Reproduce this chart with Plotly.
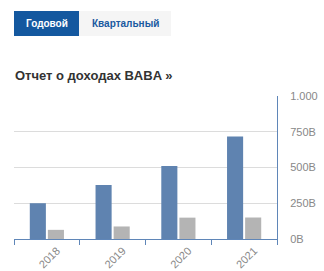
import plotly.graph_objects as go

years = ["2018", "2019", "2020", "2021"]
revenue = [250.3, 376.8, 509.7, 717.3]
net_income = [64.0, 87.6, 149.4, 150.3]
y_tickvals = [0, 250, 500, 750, 1000]
y_ticktext = ["0B", "250B", "500B", "750B", "1.000"]

W, H = 324, 271
L, R, T, B = 14, 277, 96, 239

def px(x):
    return (x - L) / (R - L)

def py(y):
    return (B - y) / (B - T)

axis_blue = "#5f86b8"
fig = go.Figure()
fig.add_trace(go.Bar(x=years, y=revenue, marker=dict(color="#5f83b0", line=dict(width=0)), name="Выручка"))
fig.add_trace(go.Bar(x=years, y=net_income, marker=dict(color="#b4b4b4", line=dict(width=0)), name="Чистая прибыль"))

fig.update_layout(
    width=W, height=H,
    margin=dict(l=L, r=W - R, t=T, b=H - B, pad=0, autoexpand=False),
    paper_bgcolor="white", plot_bgcolor="white",
    showlegend=False,
    barmode="group", bargap=0.45, bargroupgap=0.11,
    font=dict(family="Arial, Liberation Sans, sans-serif", color="#888888", size=11),
    xaxis=dict(type="category", tickson="boundaries", ticks="outside", ticklen=5,
               tickcolor=axis_blue, tickwidth=1, showline=True, linecolor=axis_blue,
               linewidth=1, showgrid=False, tickangle=-45, automargin=False,
               ticklabelshift=10,
               tickfont=dict(size=11, color="#888888"), fixedrange=True),
    yaxis=dict(side="right", range=[0, 1000], tickvals=y_tickvals, ticktext=y_ticktext,
               showline=True, linecolor=axis_blue, linewidth=1, ticks="", automargin=False,
               showgrid=True, gridcolor="#dcdcdc", gridwidth=1, zeroline=False,
               ticklabelstandoff=10, tickfont=dict(size=11, color="#888888"), fixedrange=True),
    shapes=[
        dict(type="rect", xref="paper", yref="paper", x0=px(14), x1=px(79), y0=py(36), y1=py(11),
             fillcolor="#14589f", line=dict(width=0), layer="above"),
        dict(type="rect", xref="paper", yref="paper", x0=px(79), x1=px(171), y0=py(36), y1=py(11),
             fillcolor="#f5f5f5", line=dict(width=0), layer="above"),
    ],
    annotations=[
        dict(text="<b>Годовой</b>", xref="paper", yref="paper", x=px(46.5), y=py(23.5),
             showarrow=False, xanchor="center", yanchor="middle",
             font=dict(size=10, color="white", family="Arial, Liberation Sans, sans-serif")),
        dict(text="<b>Квартальный</b>", xref="paper", yref="paper", x=px(125), y=py(23.5),
             showarrow=False, xanchor="center", yanchor="middle",
             font=dict(size=10, color="#1a5aa0", family="Arial, Liberation Sans, sans-serif")),
        dict(text="<b>Отчет о доходах BABA »</b>", xref="paper", yref="paper", x=px(13), y=py(75),
             showarrow=False, xanchor="left", yanchor="middle",
             font=dict(size=13, color="#333333", family="Arial, Liberation Sans, sans-serif")),
    ],
)

fig.write_html("out.html", config=dict(displayModeBar=False))
